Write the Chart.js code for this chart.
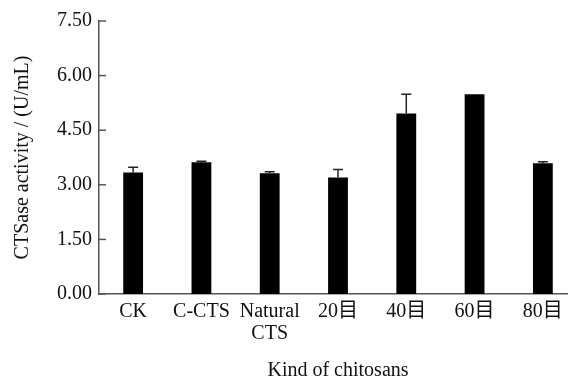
<!DOCTYPE html>
<html>
<head>
<meta charset="utf-8">
<script src="https://cdn.jsdelivr.net/npm/chart.js@4/dist/chart.umd.min.js"></script>
<style>
  html, body { margin: 0; padding: 0; background: #fff; overflow: hidden; }
  #wrap { width: 568px; height: 378px; overflow: hidden; }
  canvas { display: block; }
</style>
</head>
<body>
<div id="wrap"><canvas id="c" width="578" height="378"></canvas></div>
<script>
// Chitosan types on the x axis
const categories = ['CK', 'C-CTS', ['Natural', 'CTS'], '20目', '40目', '60目', '80目'];
// Mean CTSase activity (U/mL)
const activity = [3.34, 3.62, 3.32, 3.20, 4.96, 5.49, 3.59];
// Standard deviation (upper whisker)
const errors = [0.14, 0.03, 0.04, 0.22, 0.53, 0.00, 0.04];
// Y axis ticks
const yTicks = [0, 1.5, 3.0, 4.5, 6.0, 7.5];

const FONT = '"Liberation Serif", "Times New Roman", "Noto Sans CJK SC", serif';
const AXIS = '#555';

// Upward error whiskers with caps
const errorBars = {
  id: 'errorBars',
  afterDatasetsDraw(chart) {
    const { ctx, scales: { y } } = chart;
    const meta = chart.getDatasetMeta(0);
    ctx.save();
    ctx.strokeStyle = '#222';
    ctx.lineWidth = 1.5;
    meta.data.forEach((bar, i) => {
      const e = errors[i];
      if (!e) return;
      const yTop = y.getPixelForValue(activity[i] + e);
      const yBase = y.getPixelForValue(activity[i]);
      ctx.beginPath();
      ctx.moveTo(bar.x, yBase);
      ctx.lineTo(bar.x, yTop);
      ctx.moveTo(bar.x - 5, yTop);
      ctx.lineTo(bar.x + 5, yTop);
      ctx.stroke();
    });
    ctx.restore();
  }
};

// Inward tick marks on the value axis
const inwardTicks = {
  id: 'inwardTicks',
  afterDraw(chart) {
    const { ctx, scales: { y } } = chart;
    ctx.save();
    ctx.strokeStyle = AXIS;
    ctx.lineWidth = 1.5;
    yTicks.forEach(v => {
      const py = y.getPixelForValue(v);
      ctx.beginPath();
      ctx.moveTo(y.right, py);
      ctx.lineTo(y.right + 7, py);
      ctx.stroke();
    });
    ctx.restore();
  }
};

new Chart(document.getElementById('c'), {
  type: 'bar',
  data: {
    labels: categories,
    datasets: [{
      data: activity,
      backgroundColor: '#000',
      borderWidth: 0,
      barPercentage: 0.29,
      categoryPercentage: 1.0
    }]
  },
  options: {
    responsive: false,
    animation: false,
    devicePixelRatio: 1,
    layout: { padding: { top: 21, right: 1, left: 0, bottom: 0 } },
    plugins: { legend: { display: false }, tooltip: { enabled: false } },
    scales: {
      x: {
        grid: { display: false, drawTicks: false },
        border: { display: true, color: AXIS, width: 1.5 },
        ticks: {
          color: '#111',
          font: { family: FONT, size: 20, lineHeight: 1.1 },
          padding: 7,
          maxRotation: 0,
          autoSkip: false
        },
        title: {
          display: true,
          text: 'Kind of chitosans',
          color: '#111',
          font: { family: FONT, size: 20, lineHeight: 1.2 },
          padding: { top: 0, bottom: -5 }
        },
        afterFit(scale) { scale.height = 84; }
      },
      y: {
        min: 0,
        max: 7.5,
        afterBuildTicks(scale) { scale.ticks = yTicks.map(v => ({ value: v })); },
        grid: { display: false, drawTicks: false },
        border: { display: true, color: AXIS, width: 1.5 },
        ticks: {
          color: '#111',
          font: { family: FONT, size: 20 },
          padding: 7,
          callback: v => Number(v).toFixed(2)
        },
        title: {
          display: true,
          text: 'CTSase activity / (U/mL)',
          color: '#111',
          font: { family: FONT, size: 20, lineHeight: 1.2 },
          padding: { top: 11, bottom: 0 }
        },
        afterFit(scale) { scale.width = 99; }
      }
    }
  },
  plugins: [errorBars, inwardTicks]
});
</script>
</body>
</html>
